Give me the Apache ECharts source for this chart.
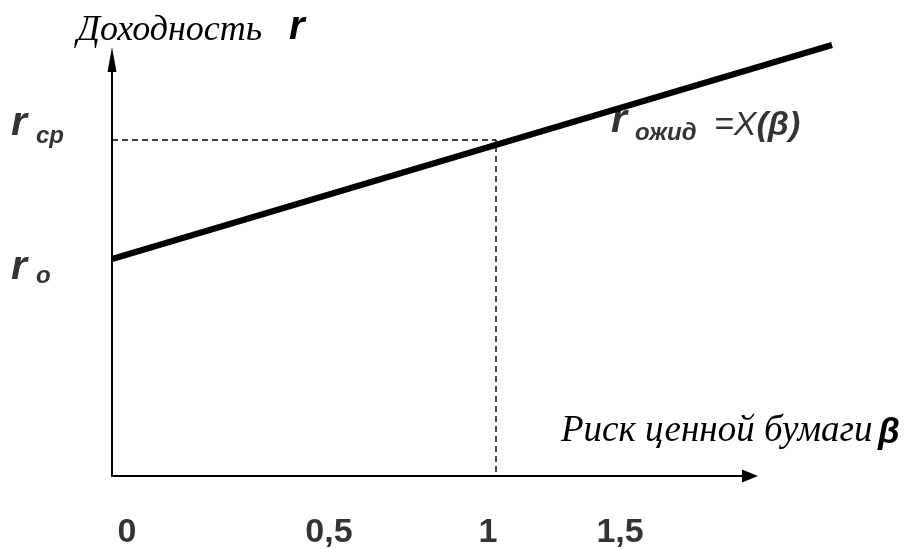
<!DOCTYPE html>
<html>
<head>
<meta charset="utf-8">
<script src="https://cdn.jsdelivr.net/npm/echarts@6/dist/echarts.min.js"></script>
<style>
html,body{margin:0;padding:0;background:#fff;}
#chart{width:913px;height:549px;}
</style>
</head>
<body>
<div id="chart"></div>
<script>
// ---- data ----
const betaLine = [0, 1.875];          // β values at the two ends of the line
const returnLine = [21.7, 43.1];      // expected return r at those ends
const betaMarket = 1;                 // β of the market
const rMarket = 33.6;                 // r_ср
const betaTickLabels = ['0', '0,5', '1', '1,5'];
const betaTickPos = [0.039, 0.565, 0.979, 1.323];
const tickLabelY = -5.7;
const plotXMax = 1.875, plotYMax = 43.1;   // drawing extent
const axisXMax = 1.640625, axisYMax = 40.4; // visible axis length (arrow bases)

const SANS = '"Liberation Sans", Arial, sans-serif';
const SERIF = '"Liberation Serif", "Times New Roman", serif';

// annotation texts: [text, x, y, styleKey]
const annotations = [
  ['r', -0.263, 35.22, 'r'],
  ['ср', -0.198, 33.93, 's'],
  ['r', -0.263, 20.82, 'r'],
  ['o', -0.198, 19.93, 's'],
  ['r', 1.2995, 35.52, 'r'],
  ['ожид', 1.362, 34.23, 's'],
  ['{e|=X}{eb|(β)}', 1.5677, 35.08, 'e']
];

const styles = {
  r: {fontFamily: SANS, fontSize: 41, fontWeight: 'bold', fontStyle: 'italic'},
  s: {fontFamily: SANS, fontSize: 24, fontWeight: 'bold', fontStyle: 'italic'},
  e: {fontFamily: SANS, fontSize: 34, fontWeight: 'normal', fontStyle: 'italic',
      rich: {
        e: {fontFamily: SANS, fontSize: 34, fontWeight: 'normal', fontStyle: 'italic', color: '#000'},
        eb: {fontFamily: SANS, fontSize: 34, fontWeight: 'bold', fontStyle: 'italic', color: '#000'}
      }}
};

const chart = echarts.init(document.getElementById('chart'), null, {renderer: 'canvas'});

const lineData = betaLine.map((b, i) => [b, returnLine[i]]);
const dashData = [[0, rMarket], [betaMarket, rMarket], [betaMarket, 0]];
const tickData = betaTickLabels.map((t, i) => ({value: [betaTickPos[i], tickLabelY], name: t}));
const annData = annotations.map(a => ({
  value: [a[1], a[2]], name: a[0],
  label: Object.assign({show: true, position: 'inside', align: 'left', verticalAlign: 'middle', color: '#000', formatter: a[0]}, styles[a[3]])
}));

const hidden = {axisLine: {show: false}, axisTick: {show: false}, axisLabel: {show: false}, splitLine: {show: false}};

const option = {
  backgroundColor: '#fff',
  animation: false,
  grid: [
    {left: 112, top: 45, right: 81, bottom: 73},
    {left: 112, top: 72, right: 171, bottom: 73}
  ],
  xAxis: [
    Object.assign({type: 'value', gridIndex: 0, min: 0, max: plotXMax}, hidden),
    {
      type: 'value', gridIndex: 1, min: 0, max: axisXMax,
      axisLine: {show: true, lineStyle: {color: '#000', width: 2}, symbol: ['none', 'triangle'], symbolSize: [13, 16], symbolOffset: [0, 8]},
      axisTick: {show: false}, axisLabel: {show: false}, splitLine: {show: false}
    }
  ],
  yAxis: [
    Object.assign({type: 'value', gridIndex: 0, min: 0, max: plotYMax}, hidden),
    {
      type: 'value', gridIndex: 1, min: 0, max: axisYMax,
      axisLine: {show: true, lineStyle: {color: '#000', width: 2}, symbol: ['none', 'triangle'], symbolSize: [9, 25], symbolOffset: [0, 12.5]},
      axisTick: {show: false}, axisLabel: {show: false}, splitLine: {show: false}
    }
  ],
  series: [
    {
      type: 'line', xAxisIndex: 0, yAxisIndex: 0, data: dashData, symbol: 'none', clip: false, silent: true,
      lineStyle: {color: '#000', width: 1.4, type: [6, 4]}
    },
    {
      type: 'line', xAxisIndex: 0, yAxisIndex: 0, data: lineData, symbol: 'none', clip: false, silent: true,
      lineStyle: {color: '#000', width: 6, cap: 'butt'}
    },
    {
      type: 'scatter', xAxisIndex: 0, yAxisIndex: 0, data: tickData, symbolSize: 0, clip: false, silent: true,
      label: {show: true, position: 'inside', formatter: p => p.name, fontFamily: SANS, fontSize: 34, fontWeight: 'bold', color: '#000', align: 'center', verticalAlign: 'middle'}
    },
    {
      type: 'scatter', xAxisIndex: 0, yAxisIndex: 0, data: annData, symbolSize: 0, clip: false, silent: true
    }
  ],
  graphic: [
    {type: 'text', style: {text: 'Доходность', x: 77, y: 31, font: 'italic 36px ' + SERIF, fill: '#000', align: 'left', verticalAlign: 'middle', textAlign: 'left', textVerticalAlign: 'middle'}},
    {type: 'text', style: {text: 'r', x: 289, y: 28, font: 'italic bold 40px ' + SANS, fill: '#000', align: 'left', verticalAlign: 'middle', textAlign: 'left', textVerticalAlign: 'middle'}},
    {type: 'text', style: {text: 'Риск ценной бумаги', x: 561, y: 431, font: 'italic 37px ' + SERIF, fill: '#000', align: 'left', verticalAlign: 'middle', textAlign: 'left', textVerticalAlign: 'middle'}},
    {type: 'text', style: {text: 'β', x: 878, y: 433, font: 'italic bold 35px ' + SANS, fill: '#000', align: 'left', verticalAlign: 'middle', textAlign: 'left', textVerticalAlign: 'middle'}}
  ]
};
chart.setOption(option);
</script>
</body>
</html>
